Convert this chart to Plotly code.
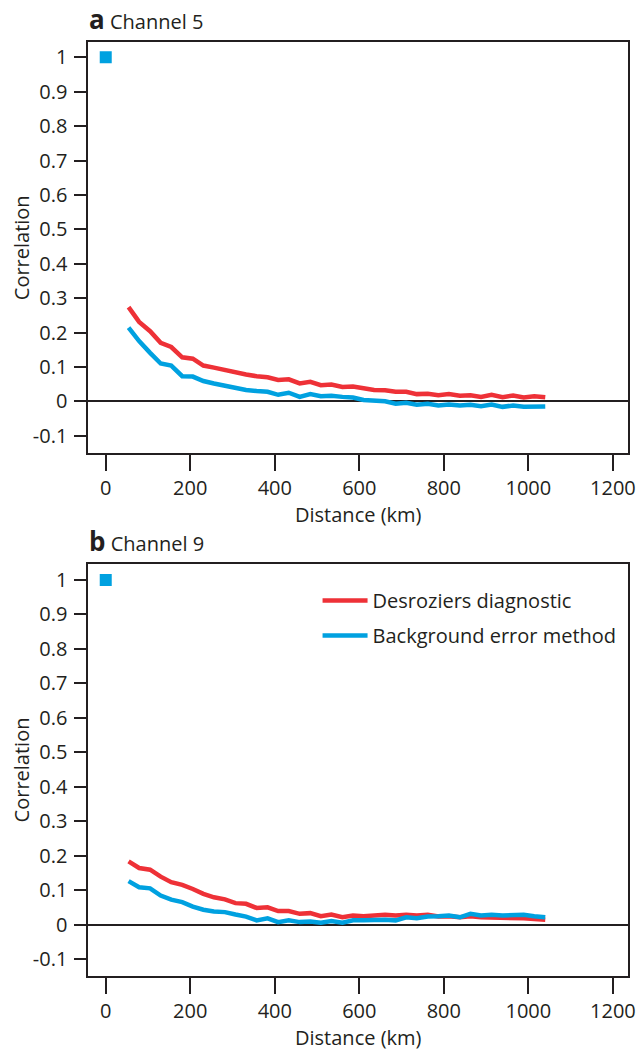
import plotly.graph_objects as go

# ---------------- data ----------------
distance_km = [54, 79, 105, 130, 155, 181, 206, 231, 256, 282, 307, 332, 357, 383,
               408, 433, 459, 484, 509, 534, 560, 585, 610, 635, 661, 686, 711, 736,
               762, 787, 812, 838, 863, 888, 913, 939, 964, 989, 1014, 1040]

ch5_desroziers = [0.274, 0.231, 0.204, 0.170, 0.158, 0.128, 0.124, 0.104, 0.098, 0.090,
                  0.084, 0.078, 0.073, 0.070, 0.062, 0.064, 0.052, 0.057, 0.047, 0.049,
                  0.042, 0.043, 0.038, 0.033, 0.032, 0.028, 0.028, 0.021, 0.022, 0.018,
                  0.021, 0.016, 0.018, 0.013, 0.019, 0.012, 0.017, 0.011, 0.015, 0.012]
ch5_background = [0.214, 0.175, 0.141, 0.110, 0.104, 0.073, 0.072, 0.059, 0.052, 0.045,
                  0.040, 0.033, 0.030, 0.028, 0.019, 0.025, 0.013, 0.021, 0.015, 0.016,
                  0.013, 0.011, 0.004, 0.001, 0.000, -0.007, -0.004, -0.010, -0.007, -0.012,
                  -0.009, -0.012, -0.010, -0.014, -0.009, -0.016, -0.012, -0.016, -0.015, -0.015]

ch9_desroziers = [0.183, 0.164, 0.159, 0.139, 0.123, 0.115, 0.103, 0.089, 0.079, 0.073,
                  0.062, 0.060, 0.048, 0.050, 0.039, 0.039, 0.031, 0.033, 0.024, 0.029,
                  0.021, 0.026, 0.024, 0.026, 0.028, 0.026, 0.028, 0.026, 0.028, 0.023,
                  0.024, 0.021, 0.024, 0.021, 0.021, 0.018, 0.019, 0.018, 0.016, 0.014]
ch9_background = [0.126, 0.108, 0.105, 0.084, 0.072, 0.065, 0.052, 0.043, 0.038, 0.036,
                  0.029, 0.023, 0.012, 0.018, 0.007, 0.012, 0.007, 0.009, 0.005, 0.010,
                  0.005, 0.012, 0.012, 0.014, 0.014, 0.012, 0.021, 0.018, 0.023, 0.024,
                  0.026, 0.021, 0.031, 0.026, 0.028, 0.026, 0.026, 0.028, 0.024, 0.021]

self_distance = [0]
self_correlation = [1]

x_tick_vals = [0, 200, 400, 600, 800, 1000, 1200]
x_tick_text = ["0", "200", "400", "600", "800", "1000", "1200"]
y_tick_vals = [-0.1, 0, 0.1, 0.2, 0.3, 0.4, 0.5, 0.6, 0.7, 0.8, 0.9, 1]
y_tick_text = ["-0.1", "0", "0.1", "0.2", "0.3", "0.4", "0.5", "0.6", "0.7", "0.8", "0.9", "1"]

series_names = ["Desroziers diagnostic", "Background error method"]
panel_titles = ["<span style='font-size:26px'><b>a</b></span> Channel 5",
                "<span style='font-size:26px'><b>b</b></span> Channel 9"]

# ---------------- style ----------------
RED = "#EE3137"
BLUE = "#00A1E0"
INK = "#231F20"
FONT = "Open Sans"

OFF = 8                       # page body margin of the browser
W, H = 644 - OFF, 1055 - OFF  # figure size so it fits the window


def fx(p):
    return (p - OFF) / W


def fy(p):
    return 1 - (p - OFF) / H


fig = go.Figure()

panels = [
    ("x", "y", ch5_desroziers, ch5_background, False),
    ("x2", "y2", ch9_desroziers, ch9_background, True),
]
for xa, ya, red_vals, blue_vals, legend in panels:
    fig.add_trace(go.Scatter(x=distance_km, y=red_vals, mode="lines", name=series_names[0],
                             line=dict(color=RED, width=4.5), xaxis=xa, yaxis=ya,
                             showlegend=legend, legendgroup="d"))
    fig.add_trace(go.Scatter(x=distance_km, y=blue_vals, mode="lines", name=series_names[1],
                             line=dict(color=BLUE, width=4.5), xaxis=xa, yaxis=ya,
                             showlegend=legend, legendgroup="b"))
    fig.add_trace(go.Scatter(x=self_distance, y=self_correlation, mode="markers",
                             marker=dict(symbol="square", size=12, color=BLUE),
                             xaxis=xa, yaxis=ya, showlegend=False))

x_dom = [fx(89.3), fx(635)]
y_dom_a = [fy(453.3), fy(42.3)]
y_dom_b = [fy(975.7), fy(564.3)]

xcommon = dict(range=[-41, 1236], tickvals=x_tick_vals, ticktext=x_tick_text,
               ticks="outside", ticklen=16, tickwidth=2, tickcolor=INK,
               showline=True, linecolor=INK, linewidth=2, mirror=True,
               showgrid=False, zeroline=False,
               tickfont=dict(family=FONT, size=20, color=INK),
               title=dict(text="Distance (km)", font=dict(family=FONT, size=20, color=INK),
                          standoff=7))
ycommon = dict(tickvals=y_tick_vals, ticktext=y_tick_text,
               ticks="outside", ticklen=12, tickwidth=2, tickcolor=INK,
               ticklabelstandoff=3,
               showline=True, linecolor=INK, linewidth=2, mirror=True,
               showgrid=False, zeroline=True, zerolinecolor=INK, zerolinewidth=2,
               tickfont=dict(family=FONT, size=20, color=INK),
               title=dict(text="Correlation", font=dict(family=FONT, size=20, color=INK),
                          standoff=3))

fig.update_layout(
    width=W, height=H,
    margin=dict(l=0, r=0, t=0, b=0),
    paper_bgcolor="white", plot_bgcolor="white",
    xaxis=dict(domain=x_dom, anchor="y", **xcommon),
    yaxis=dict(domain=y_dom_a, anchor="x", range=[-0.151, 1.0436], **ycommon),
    xaxis2=dict(domain=x_dom, anchor="y2", **xcommon),
    yaxis2=dict(domain=y_dom_b, anchor="x2", range=[-0.1486, 1.0456], **ycommon),
    legend=dict(x=fx(321), y=fy(581), xanchor="left", yanchor="top",
                itemwidth=45, tracegroupgap=6,
                bgcolor="rgba(0,0,0,0)", font=dict(family=FONT, size=20, color=INK)),
    font=dict(family=FONT, color=INK),
    annotations=[
        dict(text=panel_titles[0], x=fx(88), y=fy(19), xref="paper", yref="paper",
             xanchor="left", yanchor="middle", showarrow=False,
             font=dict(family=FONT, size=20, color=INK)),
        dict(text=panel_titles[1], x=fx(88), y=fy(541), xref="paper", yref="paper",
             xanchor="left", yanchor="middle", showarrow=False,
             font=dict(family=FONT, size=20, color=INK)),
    ],
)

fig.write_html("out.html")
